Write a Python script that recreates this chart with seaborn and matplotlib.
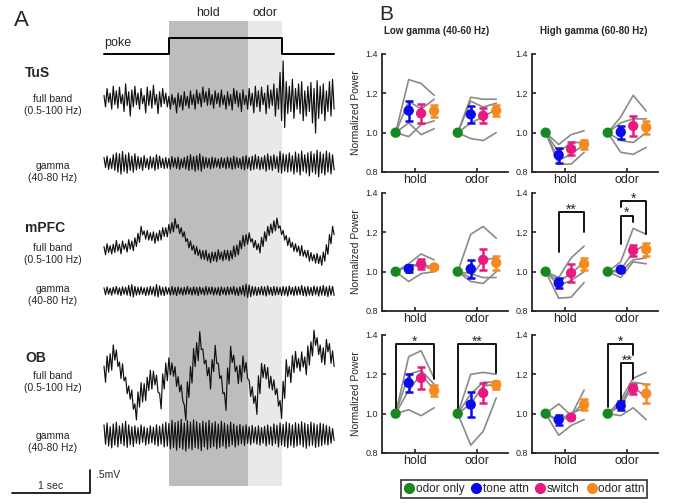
import numpy as np
import pandas as pd
import matplotlib
matplotlib.use('Agg')
import matplotlib.pyplot as plt
from matplotlib.lines import Line2D
import seaborn as sns

sns.set_style('ticks')
plt.rcParams['font.family'] = ['Liberation Sans', 'DejaVu Sans']

W, H = 683, 503

# ---------------- panel A: example LFP traces ----------------
# upper / lower excursions of each trace, read at 75 points, in units of 0.01 mV
trace_dur = 2.95          # seconds shown
hold_on, odor_on, odor_off = 0.83, 1.85, 2.28

tus_full_hi = [10, 25, 15, 30, 20, 28, 12, 35, 18, 22, 30, 15, 25, 10, 28, 20, 32, 12, 18, 25,
               15, 8, 12, 5, 15, 10, 18, 8, 20, 12, 22, 15, 28, 18, 25, 12, 20, 15, 22, 10,
               18, 12, 25, 20, 15, 22, 10, 25, 15, 30, 20, 28, 15, 32, 22, 35, 25, 60, 85, 40,
               30, 45, 25, 35, 40, 20, 30, 38, 25, 42, 30, 35, 20, 40, 45]
tus_full_lo = [-15, -5, -20, -10, -18, -8, -25, -12, -35, -15, -10, -20, -8, -28, -12, -18, -10, -30, -15, -8,
               -15, -20, -10, -28, -15, -22, -12, -18, -10, -20, -8, -15, -5, -12, -10, -18, -8, -15, -10, -20,
               -12, -22, -8, -15, -25, -10, -20, -12, -28, -15, -25, -10, -30, -18, -12, -35, -20, -45, -60, -30,
               -25, -40, -20, -30, -45, -35, -25, -50, -72, -40, -30, -45, -25, -35, -20]
tus_gam_hi = [12, 15, 10, 18, 22, 20, 25, 18, 22, 15, 20, 14, 12, 16, 10, 14, 12, 18, 15, 10,
              12, 10, 14, 11, 13, 9, 12, 15, 18, 14, 16, 20, 14, 12, 10, 13, 11, 9, 12, 10,
              13, 11, 15, 12, 10, 14, 16, 12, 15, 18, 14, 12, 16, 20, 15, 18, 14, 25, 20, 18,
              22, 16, 24, 20, 26, 18, 22, 25, 20, 28, 24, 20, 26, 22, 18]
tus_gam_lo = [-10, -14, -12, -16, -20, -24, -18, -22, -16, -20, -15, -12, -16, -10, -14, -11, -16, -13, -10, -12,
              -11, -13, -9, -12, -14, -10, -13, -16, -14, -18, -15, -18, -12, -10, -13, -11, -9, -12, -10, -13,
              -11, -14, -12, -10, -13, -15, -12, -16, -14, -12, -15, -13, -18, -14, -16, -12, -20, -22, -18, -20,
              -18, -24, -20, -26, -18, -22, -28, -20, -24, -30, -22, -26, -20, -24, -15]
mpfc_full_hi = [1, 7, 3, 6, 14, 6, 13, 7, 16, 13, 20, 30, 45, 35, 36, 31, 33, 30, 36, 42,
                42, 49, 53, 62, 49, 42, 33, 18, 13, 4, 1, -6, -8, -7, -14, -11, -11, -6, -11, -7,
                -7, -8, 2, 4, 14, 25, 27, 31, 18, 14, 7, 21, 33, 45, 50, 57, 63, 46, 36, 25,
                20, 10, 7, 2, 3, -7, -7, -12, -16, -14, -19, -11, 5, 27, 45]
mpfc_full_lo = [-17, -12, -15, -12, -9, -15, -5, -11, -5, -8, 1, 10, 26, 17, 15, 14, 8, 13, 15, 23,
                22, 30, 33, 41, 29, 22, 12, -2, -7, -16, -19, -26, -27, -30, -34, -30, -32, -27, -30, -27,
                -30, -26, -21, -17, -4, 2, 6, 11, -1, -6, -13, 1, 13, 25, 30, 35, 41, 27, 15, 3,
                -1, -9, -11, -19, -20, -23, -31, -30, -35, -36, -40, -31, -16, 7, 27]
mpfc_gam_hi = [7, 9, 6, 8, 10, 7, 9, 8, 12, 14, 10, 8, 9, 7, 8, 10, 9, 14, 11, 8,
               9, 7, 10, 8, 9, 7, 8, 10, 7, 9, 8, 9, 7, 10, 8, 9, 7, 8, 9, 7,
               9, 8, 10, 7, 9, 12, 15, 13, 10, 9, 8, 10, 9, 11, 8, 10, 9, 8, 10, 9,
               11, 8, 10, 9, 12, 9, 10, 8, 11, 9, 10, 12, 9, 11, 10]
mpfc_gam_lo = [-8, -7, -9, -6, -8, -10, -7, -9, -11, -13, -9, -8, -7, -10, -9, -8, -11, -13, -9, -10,
               -7, -9, -8, -10, -7, -9, -8, -7, -9, -8, -10, -7, -9, -8, -7, -9, -8, -10, -7, -9,
               -8, -7, -9, -10, -8, -11, -14, -12, -9, -10, -8, -9, -11, -8, -10, -9, -8, -10, -9, -11,
               -8, -10, -9, -8, -10, -11, -9, -10, -8, -11, -9, -10, -12, -9, -10]
ob_full_hi = [15, 37, 42, 61, 50, 24, 20, -9, -28, -37, -67, -41, -21, -23, -9, 6, 4, -5, -44, -2,
              22, 33, 22, 14, -8, -26, -70, -19, 14, 53, 66, 90, 52, 28, 12, 29, 60, 21, -6, -43,
              11, 58, 39, 15, 17, 37, 23, -16, -30, -50, -6, 21, 18, 12, -7, -15, -34, -60, -18, 29,
              14, 38, 47, 32, 46, 35, 59, 68, 93, 77, 61, 55, 73, 64, 48]
ob_full_lo = [-20, 2, 6, 28, 14, -12, -17, -45, -57, -79, -102, -74, -63, -60, -38, -35, -26, -42, -78, -35,
              -17, -4, -7, -29, -41, -60, -103, -53, -22, 14, 27, 51, 20, -6, -35, 3, 21, -12, -45, -81,
              -24, 23, 3, -23, -19, 2, -12, -51, -66, -90, -45, -10, -13, -33, -37, -47, -72, -99, -55, -8,
              -21, 1, 11, 4, 13, -4, 17, 37, 60, 40, 23, 18, 46, 21, 14]
ob_gam_hi = [22, 26, 18, 24, 28, 20, 25, 30, 22, 18, 20, 16, 22, 18, 15, 20, 17, 22, 19, 24,
             28, 25, 32, 27, 30, 34, 26, 31, 28, 33, 29, 25, 30, 27, 32, 26, 29, 24, 30, 26,
             22, 28, 24, 20, 23, 19, 22, 18, 21, 17, 20, 16, 19, 22, 18, 24, 21, 26, 23, 28,
             25, 22, 27, 24, 29, 26, 23, 28, 25, 22, 26, 24, 21, 18, 14]
ob_gam_lo = [-20, -24, -28, -22, -26, -19, -23, -27, -21, -25, -18, -20, -16, -22, -19, -17, -21, -24, -20, -26,
             -24, -30, -27, -33, -28, -31, -35, -29, -32, -27, -30, -34, -26, -31, -28, -25, -30, -27, -24, -29,
             -25, -21, -26, -22, -19, -23, -18, -21, -17, -20, -22, -18, -24, -20, -23, -19, -26, -22, -25, -28,
             -23, -27, -24, -21, -26, -29, -24, -22, -27, -25, -23, -20, -22, -18, -12]

# ---------------- panel B: normalized gamma power ----------------
conditions = ['odor only', 'tone attn', 'switch', 'odor attn']
cond_colors = ['#17871f', '#0a0aeb', '#e8197f', '#f58a1f']
phases = ['hold', 'odor']

# means [hold, odor] per condition, SEM, and individual animals (tone, switch, odor attn)
tus_low_mean = [[1.0, 1.112, 1.098, 1.11], [1.0, 1.093, 1.086, 1.112]]
tus_low_sem = [[0, 0.051, 0.048, 0.032], [0, 0.045, 0.039, 0.028]]
tus_low_subj = [[[1.27, 1.25, 1.19], [1.16, 1.12, 1.17], [1.05, 0.99, 1.02], [0.98, 1.04, 1.06]],
                [[1.18, 1.17, 1.17], [1.16, 1.13, 1.15], [1.05, 1.08, 1.12], [0.97, 0.96, 1.0]]]
tus_high_mean = [[1.0, 0.886, 0.917, 0.941], [1.0, 1.003, 1.034, 1.027]]
tus_high_sem = [[0, 0.038, 0.033, 0.022], [0, 0.033, 0.05, 0.032]]
tus_high_subj = [[[0.84, 0.84, 0.9], [0.94, 0.99, 1.01], [0.9, 0.95, 0.95], [0.86, 0.89, 0.94]],
                 [[1.08, 1.19, 1.11], [1.05, 1.07, 1.07], [0.96, 0.95, 1.0], [0.9, 0.89, 0.925]]]
mpfc_low_mean = [[1.0, 1.014, 1.039, 1.022], [1.0, 1.014, 1.06, 1.045]]
mpfc_low_sem = [[0, 0.018, 0.024, 0.01], [0, 0.047, 0.053, 0.035]]
mpfc_low_subj = [[[0.95, 0.99, 1.0], [1.04, 1.09, 1.06], [1.03, 1.04, 1.02], [1.03, 1.03, 1.01]],
                 [[1.19, 1.23, 1.17], [0.97, 1.06, 1.07], [0.95, 0.94, 1.0], [0.99, 0.97, 0.97]]]
mpfc_high_mean = [[1.0, 0.942, 0.993, 1.039], [1.0, 1.01, 1.108, 1.113]]
mpfc_high_sem = [[0, 0.026, 0.045, 0.03], [0, 0.01, 0.027, 0.031]]
mpfc_high_subj = [[[0.97, 1.07, 1.13], [0.95, 0.99, 1.05], [0.93, 0.955, 1.0], [0.865, 0.87, 0.945]],
                  [[1.05, 1.22, 1.19], [1.01, 1.1, 1.14], [1.0, 1.06, 1.07], [0.97, 1.05, 1.04]]]
ob_low_mean = [[1.0, 1.156, 1.181, 1.117], [1.0, 1.046, 1.105, 1.147]]
ob_low_sem = [[0, 0.045, 0.054, 0.027], [0, 0.063, 0.051, 0.02]]
ob_low_subj = [[[1.29, 1.32, 1.18], [1.2, 1.22, 1.15], [1.12, 1.2, 1.12], [1.02, 0.99, 1.03]],
               [[1.2, 1.21, 1.2], [1.1, 1.16, 1.16], [1.05, 1.14, 1.15], [0.84, 0.91, 1.08]]]
ob_high_mean = [[1.0, 0.969, 0.981, 1.046], [1.0, 1.041, 1.127, 1.102]]
ob_high_sem = [[0, 0.026, 0.01, 0.029], [0, 0.024, 0.025, 0.047]]
ob_high_subj = [[[1.05, 0.99, 1.12], [0.97, 1.0, 1.03], [0.96, 0.99, 1.06], [0.89, 0.94, 0.97]],
                [[1.07, 1.18, 1.21], [1.05, 1.16, 1.15], [1.04, 1.14, 1.08], [0.99, 1.03, 0.97]]]

# significance brackets: (phase, cond a, cond b, top, left foot, right foot, label)
mpfc_high_sig = [(0, 1, 3, 1.305, 1.10, 1.20, '**'),
                 (1, 1, 2, 1.285, 1.14, 1.255, '*'),
                 (1, 1, 3, 1.36, 1.33, 1.19, '*')]
ob_low_sig = [(0, 0, 3, 1.356, 1.03, 1.175, '*'),
              (1, 0, 3, 1.356, 1.03, 1.205, '**')]
ob_high_sig = [(1, 0, 2, 1.356, 1.035, 1.30, '*'),
               (1, 1, 2, 1.258, 1.07, 1.175, '**')]

# ---------------- figure ----------------
fig = plt.figure(figsize=(W / 100, H / 100), dpi=100)


def fx(px):
    return px / W


def fy(py):
    return 1 - py / H


# panel A axes: x in seconds (78 px per second), y in mV (46 px per mV)
axA = fig.add_axes([0, 0, 360 / W, 1])
axA.set_xlim(-104 / 78, 256 / 78)
axA.set_ylim(0, H / 46)
axA.axis('off')


def ty(py):
    return (H - py) / 46


axA.axvspan(hold_on, odor_on, ymin=fy(486), ymax=fy(21), color='#bdbdbd', lw=0, zorder=0)
axA.axvspan(odor_on, odor_off, ymin=fy(486), ymax=fy(21), color='#e9e9e9', lw=0, zorder=0)

lo, hi = ty(54), ty(38)
axA.plot([0, hold_on, hold_on, odor_off, odor_off, trace_dur], [lo, lo, hi, hi, lo, lo],
         color='black', lw=1.4)

traces = [(tus_full_hi, tus_full_lo, 100), (tus_gam_hi, tus_gam_lo, 163),
          (mpfc_full_hi, mpfc_full_lo, 247), (mpfc_gam_hi, mpfc_gam_lo, 291),
          (ob_full_hi, ob_full_lo, 373), (ob_gam_hi, ob_gam_lo, 435)]
for up, dn, center in traces:
    n = min(len(up), len(dn))
    zig = np.column_stack([up[:n], dn[:n]]).ravel() * 0.01
    t = np.linspace(0, trace_dur, len(zig))
    axA.plot(t, zig + ty(center), color='#101010', lw=0.85)

# scale bars
axA.plot([(12 - 104) / 78, (90 - 104) / 78, (90 - 104) / 78], [ty(493), ty(493), ty(493) + 0.5],
         color='black', lw=1.2)
fig.text(fx(51), fy(486), '1 sec', ha='center', va='center', fontsize=7.5)
fig.text(fx(96), fy(475), '.5mV', ha='left', va='center', fontsize=7.5)

fig.text(fx(21), fy(20), 'A', ha='center', va='center', fontsize=16)
fig.text(fx(386), fy(15), 'B', ha='center', va='center', fontsize=15)
fig.text(fx(208), fy(13), 'hold', ha='center', va='center', fontsize=9)
fig.text(fx(265), fy(13), 'odor', ha='center', va='center', fontsize=9)
fig.text(fx(104), fy(43), 'poke', ha='left', va='center', fontsize=9)

for name, y_name, y_full, y_gam in [('TuS', 73, 105, 172), ('mPFC', 228, 254, 295), ('OB', 358, 382, 442)]:
    fig.text(fx(25), fy(y_name), name, ha='left', va='center', fontsize=10, fontweight='bold')
    fig.text(fx(53), fy(y_full), 'full band\n(0.5-100 Hz)', ha='center', va='center', fontsize=7.5,
             linespacing=1.25)
    fig.text(fx(53), fy(y_gam), 'gamma\n(40-80 Hz)', ha='center', va='center', fontsize=7.5,
             linespacing=1.25)

# panel B axes
offsets = [-0.31, -0.1, 0.1, 0.31]
col_left = [382, 532]
row_top = [54, 193, 335]
panels = [
    [(tus_low_mean, tus_low_sem, tus_low_subj, []), (tus_high_mean, tus_high_sem, tus_high_subj, [])],
    [(mpfc_low_mean, mpfc_low_sem, mpfc_low_subj, []),
     (mpfc_high_mean, mpfc_high_sem, mpfc_high_subj, mpfc_high_sig)],
    [(ob_low_mean, ob_low_sem, ob_low_subj, ob_low_sig), (ob_high_mean, ob_high_sem, ob_high_subj, ob_high_sig)],
]

for r, row in enumerate(panels):
    for c, (mean, sem, subj, sig) in enumerate(row):
        ax = fig.add_axes([fx(col_left[c]), fy(row_top[r] + 118), 126 / W, 118 / H])

        rows = []
        for p in range(2):
            for s, vals in enumerate(subj[p]):
                for k, v in enumerate([1.0] + vals):
                    rows.append({'x': p + offsets[k], 'y': v, 'unit': f'{p}-{s}'})
        df = pd.DataFrame(rows)
        sns.lineplot(data=df, x='x', y='y', units='unit', estimator=None, sort=False,
                     color='#8a8a8a', lw=1.2, ax=ax, legend=False, zorder=1)

        mrows = []
        for p in range(2):
            for k in range(4):
                mrows.append({'x': p + offsets[k], 'y': mean[p][k], 'sem': sem[p][k], 'cond': conditions[k]})
        dm = pd.DataFrame(mrows)
        for k in range(1, 4):
            d = dm[dm['cond'] == conditions[k]]
            ax.errorbar(d['x'], d['y'], yerr=d['sem'], fmt='none', ecolor=cond_colors[k],
                        elinewidth=1.8, capsize=3.2, capthick=1.8, zorder=3)
        sns.scatterplot(data=dm, x='x', y='y', hue='cond', palette=cond_colors, hue_order=conditions,
                        s=55, edgecolor='none', legend=False, ax=ax, zorder=4)

        for p, a, b, top, yl, yr, lab in sig:
            xa, xb = p + offsets[a], p + offsets[b]
            ax.plot([xa, xa, xb, xb], [yl, top, top, yr], color='black', lw=1.3, clip_on=False, zorder=5)
            ax.text((xa + xb) / 2, top + 0.012, lab, ha='center', va='center', fontsize=10)

        ax.set_xlim(-0.53, 1.5)
        ax.set_ylim(0.8, 1.4)
        ax.set_xticks([0, 1])
        ax.set_xticklabels(phases)
        ax.set_yticks([0.8, 1.0, 1.2, 1.4])
        ax.set_yticklabels(['0.8', '1.0', '1.2', '1.4'])
        ax.tick_params(axis='y', direction='in', length=3, width=1.2, labelsize=6.5, pad=3)
        ax.tick_params(axis='x', direction='in', length=3, width=1.2, labelsize=9, pad=1.5)
        sns.despine(ax=ax)
        for sp in ['left', 'bottom']:
            ax.spines[sp].set_linewidth(1.3)
        ax.set_xlabel('')
        if c == 0:
            ax.set_ylabel('Normalized Power', fontsize=7.5)
            ax.yaxis.set_label_coords(-0.17, 0.5)
        else:
            ax.set_ylabel('')

fig.text(fx(437), fy(31), 'Low gamma (40-60 Hz)', ha='center', va='center', fontsize=7, fontweight='bold')
fig.text(fx(594), fy(31), 'High gamma (60-80 Hz)', ha='center', va='center', fontsize=7, fontweight='bold')

handles = [Line2D([], [], marker='o', ls='', color=col, markersize=7) for col in cond_colors]
leg = fig.legend(handles, conditions, loc='center', bbox_to_anchor=(fx(524), fy(489)), ncol=4,
                 frameon=True, fancybox=False, edgecolor='black', fontsize=8.5, handletextpad=0.05,
                 columnspacing=0.5, borderpad=0.25, handlelength=1.0, borderaxespad=0)
leg.get_frame().set_linewidth(1.2)

fig.savefig('out.png', dpi=100)
